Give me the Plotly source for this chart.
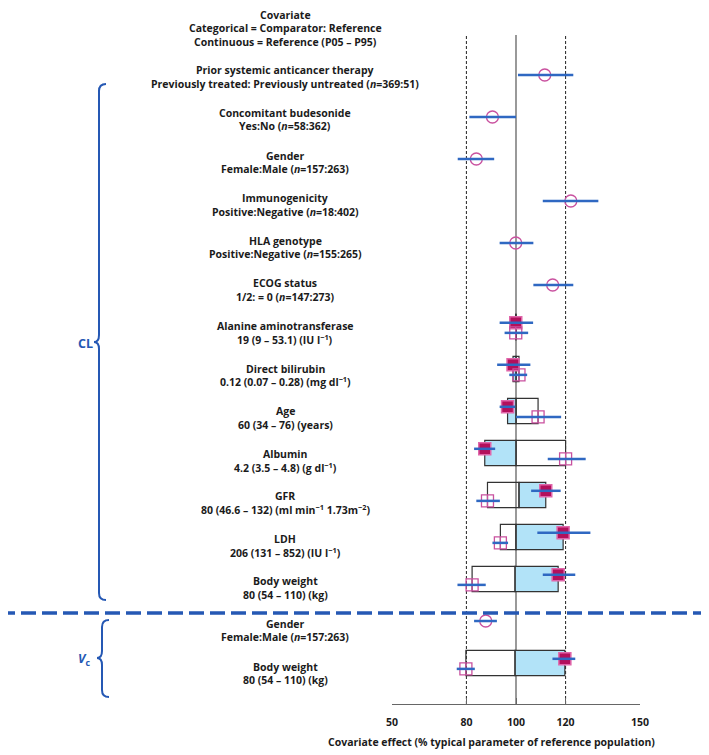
import plotly.graph_objects as go

# ---------------- data ----------------
row_labels = [
    ["Prior systemic anticancer therapy", "Previously treated: Previously untreated (<i>n</i>=369:51)"],
    ["Concomitant budesonide", "Yes:No (<i>n</i>=58:362)"],
    ["Gender", "Female:Male (<i>n</i>=157:263)"],
    ["Immunogenicity", "Positive:Negative (<i>n</i>=18:402)"],
    ["HLA genotype", "Positive:Negative (<i>n</i>=155:265)"],
    ["ECOG status", "1/2: = 0 (<i>n</i>=147:273)"],
    ["Alanine aminotransferase", "19 (9 – 53.1) (IU l<sup>−1</sup>)"],
    ["Direct bilirubin", "0.12 (0.07 – 0.28) (mg dl<sup>−1</sup>)"],
    ["Age", "60 (34 – 76) (years)"],
    ["Albumin", "4.2 (3.5 – 4.8) (g dl<sup>−1</sup>)"],
    ["GFR", "80 (46.6 – 132) (ml min<sup>−1</sup> 1.73m<sup>−2</sup>)"],
    ["LDH", "206 (131 – 852) (IU l<sup>−1</sup>)"],
    ["Body weight", "80 (54 – 110) (kg)"],
    ["Gender", "Female:Male (<i>n</i>=157:263)"],
    ["Body weight", "80 (54 – 110) (kg)"],
]
header_lines = ["Covariate", "Categorical = Comparator: Reference", "Continuous = Reference (P05 – P95)"]

# categorical covariates (row index, estimate, CI)
cat_rows = [0, 1, 2, 3, 4, 5, 13]
cat_est = [111.6, 90.5, 84.0, 122.1, 99.9, 114.8, 87.8]
cat_lo = [100.8, 81.2, 76.5, 110.8, 93.4, 107.0, 83.1]
cat_hi = [123.1, 100.0, 91.2, 133.2, 107.0, 123.1, 92.3]

# continuous covariates: P95 (filled) and P05 (open) effects with CI
cont_rows = [6, 7, 8, 9, 10, 11, 12, 14]
p95_est = [99.9, 98.8, 96.6, 87.4, 112.0, 119.0, 117.0, 119.7]
p95_lo = [93.4, 92.4, 93.4, 83.1, 106.1, 108.6, 110.8, 114.7]
p95_hi = [106.9, 105.8, 99.7, 91.6, 118.0, 130.0, 123.9, 123.9]
p05_est = [99.9, 101.2, 108.9, 120.0, 88.5, 93.7, 82.3, 79.8]
p05_lo = [95.4, 97.3, 100.0, 112.8, 84.0, 90.5, 76.4, 76.1]
p05_hi = [104.9, 104.5, 118.2, 128.1, 93.5, 96.8, 87.8, 83.4]
box_mid = [100, 100, 100, 100, 101.2, 100, 99.6, 99.6]

x_ticks = [50, 80, 100, 120, 150]
ref_lines = [80, 120]
ref_value = 100

# ---------------- layout geometry ----------------
W, H = 709, 755
OFF = 8                      # page body margin offset
PL, PR, PT, PB = 392, 640, 35, 704   # plot area in screen pixels
ML, MR, MT, MB = PL - OFF, W - (PR - OFF), PT - OFF, H - (PB - OFF)
Y_TOP, Y_BOT = -0.952, 14.976   # row units at top / bottom of plot area
FILLED_OFF, OPEN_OFF = -0.1, 0.14
BOX_HALF = 0.3
LINE_GAP = 6.7

FONT = "Open Sans"
FS = 10.5
TXT = "#1b1b1b"
BLUE = "#2f68c2"
BRACE = "#2558b4"
PINK = "#c9519f"
CRIMSON = "#b3105c"
BOXFILL = "#b2e3f8"

def px_to_paper_x(px):
    return (px - PL) / (PR - PL)

def px_to_paper_y(py):
    return (PB - py) / (PB - PT)

def row_to_paper_y(r):
    return (Y_BOT - r) / (Y_BOT - Y_TOP)

def segs(rows, lo, hi, off=0.0):
    xs, ys = [], []
    for r, a, b in zip(rows, lo, hi):
        xs += [a, b, None]
        ys += [r + off, r + off, None]
    return xs, ys

fig = go.Figure()

# markers
fig.add_trace(go.Scatter(
    x=cat_est, y=cat_rows, mode="markers",
    marker=dict(symbol="circle-open", size=12, color=PINK, line=dict(width=1.3, color=PINK)),
    showlegend=False, hoverinfo="skip"))
fig.add_trace(go.Scatter(
    x=p95_est, y=[r + FILLED_OFF for r in cont_rows], mode="markers",
    marker=dict(symbol="square", size=12, color=CRIMSON, line=dict(width=1.5, color="#e066aa")),
    showlegend=False, hoverinfo="skip"))
fig.add_trace(go.Scatter(
    x=p05_est, y=[r + OPEN_OFF for r in cont_rows], mode="markers",
    marker=dict(symbol="square-cross-open", size=12, color=PINK, line=dict(width=1.3, color=PINK)),
    showlegend=False, hoverinfo="skip"))

# CI lines on top
for (rows, lo, hi, off) in [(cat_rows, cat_lo, cat_hi, 0.0),
                            (cont_rows, p95_lo, p95_hi, FILLED_OFF),
                            (cont_rows, p05_lo, p05_hi, OPEN_OFF)]:
    xs, ys = segs(rows, lo, hi, off)
    fig.add_trace(go.Scatter(x=xs, y=ys, mode="lines",
                             line=dict(color=BLUE, width=2.5),
                             showlegend=False, hoverinfo="skip"))

shapes = []
# reference lines
shapes.append(dict(type="line", xref="x", yref="paper", x0=ref_value, x1=ref_value, y0=0, y1=1,
                   line=dict(color="#808080", width=1.6), layer="below"))
for v in ref_lines:
    shapes.append(dict(type="line", xref="x", yref="paper", x0=v, x1=v, y0=0, y1=1,
                       line=dict(color="#222222", width=1, dash="3px,2px"), layer="below"))

# boxes for continuous covariates
for r, a, m, b in zip(cont_rows, p95_est, box_mid, p05_est):
    shapes.append(dict(type="rect", xref="x", yref="y", x0=a, x1=m,
                       y0=r - BOX_HALF, y1=r + BOX_HALF,
                       fillcolor=BOXFILL, line=dict(color="#333333", width=1.2), layer="below"))
    shapes.append(dict(type="rect", xref="x", yref="y", x0=m, x1=b,
                       y0=r - BOX_HALF, y1=r + BOX_HALF,
                       fillcolor="rgba(255,255,255,0)", line=dict(color="#333333", width=1.2), layer="below"))

# separator between CL and Vc
sep_y = row_to_paper_y(12.81)
shapes.append(dict(type="line", xref="paper", yref="paper",
                   x0=px_to_paper_x(0), x1=px_to_paper_x(W + 10), y0=sep_y, y1=sep_y,
                   line=dict(color=BRACE, width=3.5, dash="15px,6px")))

# braces
def brace(x_v, x_tip, x_end, y_top, y_mid, y_bot, rr=7):
    P = lambda x, y: f"{px_to_paper_x(x):.5f},{px_to_paper_y(y):.5f}"
    return (f"M {P(x_end, y_top)} Q {P(x_v, y_top)} {P(x_v, y_top + rr)} "
            f"L {P(x_v, y_mid - rr)} Q {P(x_v, y_mid)} {P(x_tip, y_mid)} "
            f"Q {P(x_v, y_mid)} {P(x_v, y_mid + rr)} "
            f"L {P(x_v, y_bot - rr)} Q {P(x_v, y_bot)} {P(x_end, y_bot)}")

shapes.append(dict(type="path", xref="paper", yref="paper",
                   path=brace(99, 94, 106, 84, 342, 600), line=dict(color=BRACE, width=2)))
shapes.append(dict(type="path", xref="paper", yref="paper",
                   path=brace(102, 97, 109, 620, 658, 697), line=dict(color=BRACE, width=2)))

annotations = []
lab_x = px_to_paper_x(285)
txt_font = dict(family=FONT, size=FS, color=TXT, weight="bold")
for i, lines in enumerate(row_labels):
    for j, t in enumerate(lines):
        annotations.append(dict(text=t, xref="paper", yref="y", x=lab_x, y=0.05 + 1.014 * i,
                                yshift=LINE_GAP * (1 - 2 * j),
                                xanchor="center", yanchor="middle", align="center", showarrow=False,
                                font=txt_font))
for j, t in enumerate(header_lines):
    annotations.append(dict(text=t, xref="paper", yref="paper", x=lab_x, y=px_to_paper_y(28.5),
                            yshift=13.6 * (1 - j), xanchor="center", yanchor="middle",
                            align="center", showarrow=False, font=txt_font))
annotations.append(dict(text="CL", xref="paper", yref="paper", x=px_to_paper_x(85), y=px_to_paper_y(343),
                        xanchor="center", yanchor="middle", showarrow=False,
                        font=dict(family=FONT, size=12.5, color=BRACE, weight="bold")))
annotations.append(dict(text="<i>V</i><sub>c</sub>", xref="paper", yref="paper",
                        x=px_to_paper_x(84), y=px_to_paper_y(659),
                        xanchor="center", yanchor="middle", showarrow=False,
                        font=dict(family=FONT, size=12.5, color=BRACE, weight="bold")))
annotations.append(dict(text="Covariate effect (% typical parameter of reference population)",
                        xref="paper", yref="paper", x=px_to_paper_x(491), y=px_to_paper_y(742),
                        xanchor="center", yanchor="middle", showarrow=False, font=txt_font))

fig.update_layout(
    width=W, height=H,
    margin=dict(l=ML, r=MR, t=MT, b=MB, pad=0),
    paper_bgcolor="white", plot_bgcolor="white",
    shapes=shapes, annotations=annotations, showlegend=False,
    xaxis=dict(range=[50, 150], tickvals=x_ticks, ticktext=[str(v) for v in x_ticks],
               ticks="inside", ticklen=6, tickwidth=1.2, tickcolor="#666666",
               showline=True, linecolor="#666666", linewidth=1.2,
               showgrid=False, zeroline=False, ticklabelstandoff=8,
               tickfont=dict(family=FONT, size=10.5, color=TXT, weight="bold")),
    yaxis=dict(range=[Y_BOT, Y_TOP], visible=False, showgrid=False, zeroline=False),
)

fig.write_html("out.html")
